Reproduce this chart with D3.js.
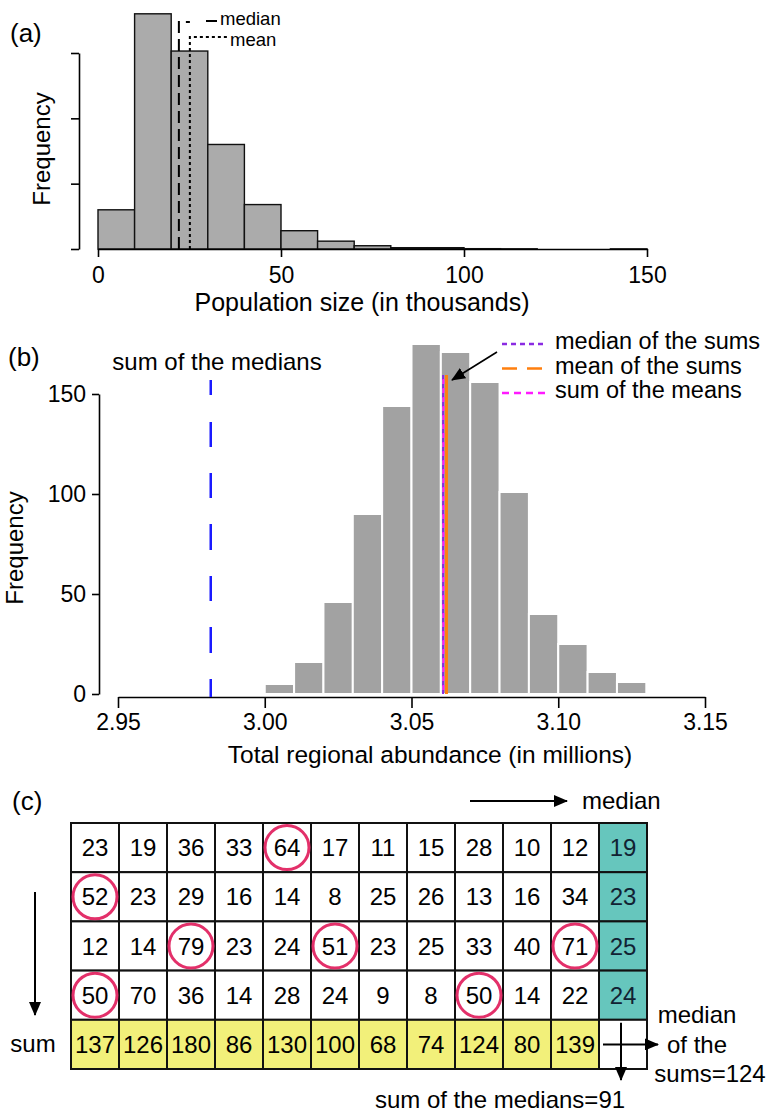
<!DOCTYPE html>
<html>
<head>
<script src="https://d3js.org/d3.v7.min.js"></script>
<style>
  body { margin: 0; background: #fff; }
  svg { display: block; font-family: 'Liberation Sans', Arial, Helvetica, sans-serif; }
</style>
</head>
<body>
<script>

// ---- panel (a): population sizes (thousands), bins of 10
var popBins = [0, 10, 20, 30, 40, 50, 60, 70, 80, 90, 100, 110, 120, 130, 140];
var popFreq = [60, 360, 303, 160, 68, 28, 12, 5, 2, 2, 0.5, 0.3, 0, 0, 0.2];
var popMedian = 22.1;
var popMean = 25.1;
var popTicks = [0, 50, 100, 150];
var popFreqTicks = [0, 100, 200, 300];

// ---- panel (b): total regional abundance (millions), bins of 0.01
var sumBins = [3.00, 3.01, 3.02, 3.03, 3.04, 3.05, 3.06, 3.07, 3.08, 3.09, 3.10, 3.11, 3.12];
var sumFreq = [5, 16, 46, 90, 144, 175, 171, 156, 101, 40, 25, 11, 6];
var sumOfMedians = 2.9816;
var medianOfSums = 3.0611;
var meanOfSums = 3.0614;
var sumOfMeans = 3.0612;
var sumTicks = [2.95, 3.00, 3.05, 3.10, 3.15];
var sumFreqTicks = [0, 50, 100, 150];
var sumLegend = ["median of the sums", "mean of the sums", "sum of the means"];

// ---- panel (c): the table
var gridRows = [
  [23, 19, 36, 33, 64, 17, 11, 15, 28, 10, 12],
  [52, 23, 29, 16, 14, 8, 25, 26, 13, 16, 34],
  [12, 14, 79, 23, 24, 51, 23, 25, 33, 40, 71],
  [50, 70, 36, 14, 28, 24, 9, 8, 50, 14, 22]
];
var rowMedians = [19, 23, 25, 24];
var colSums = [137, 126, 180, 86, 130, 100, 68, 74, 124, 80, 139];
var circled = [[0, 4], [1, 0], [2, 2], [2, 5], [2, 10], [3, 0], [3, 8]];

var fs = 24;

var svg = d3.select("body").append("svg")
  .attr("width", 773)
  .attr("height", 1113);

// arrow head
svg.append("defs").append("marker")
  .attr("id", "arrow")
  .attr("markerUnits", "userSpaceOnUse")
  .attr("markerWidth", 14)
  .attr("markerHeight", 12)
  .attr("refX", 13)
  .attr("refY", 6)
  .attr("orient", "auto")
  .append("path")
  .attr("d", "M0,0 L14,6 L0,12 z")
  .attr("fill", "#000");

function styleAxis(g, size) {
  g.select(".domain").attr("stroke", "#000").attr("stroke-width", 1.6);
  g.selectAll(".tick line").attr("stroke", "#000").attr("stroke-width", 1.6);
  g.selectAll(".tick text").attr("fill", "#000").attr("font-size", size)
    .attr("font-family", "'Liberation Sans', Arial, sans-serif");
}

// ================= panel (a) =================
var xA = d3.scaleLinear().domain([0, 150]).range([98, 647]);
var yA = d3.scaleLinear().domain([0, 300]).range([249, 53]);

svg.append("text").attr("x", 10).attr("y", 42).attr("font-size", 26).text("(a)");

svg.append("g").selectAll("rect")
  .data(popBins)
  .enter()
  .append("rect")
  .attr("x", function(d) { return xA(d); })
  .attr("y", function(d, i) { return yA(popFreq[i]); })
  .attr("width", function(d) { return xA(d + 10) - xA(d); })
  .attr("height", function(d, i) { return yA(0) - yA(popFreq[i]); })
  .attr("fill", "#ababab")
  .attr("stroke", "#111")
  .attr("stroke-width", 1.4);

var axA = svg.append("g")
  .attr("transform", "translate(0,249)")
  .call(d3.axisBottom(xA).tickValues(popTicks).tickSize(8).tickSizeOuter(0).tickPadding(10));
styleAxis(axA, 23);

var ayA = svg.append("g")
  .attr("transform", "translate(79,0)")
  .call(d3.axisLeft(yA).tickValues(popFreqTicks).tickFormat("").tickSize(8).tickSizeOuter(0));
styleAxis(ayA, 23);

svg.append("text")
  .attr("transform", "translate(50,149) rotate(-90)")
  .attr("text-anchor", "middle")
  .attr("font-size", fs)
  .text("Frequency");

svg.append("text")
  .attr("x", 362).attr("y", 311)
  .attr("text-anchor", "middle")
  .attr("font-size", 25)
  .text("Population size (in thousands)");

// median line with its bent legend leader
var mx = xA(popMedian);
svg.append("path")
  .attr("d", "M" + mx + "," + yA(0) + " V22 H" + (mx + 11))
  .attr("fill", "none").attr("stroke", "#000").attr("stroke-width", 2)
  .attr("stroke-dasharray", "12,6");
svg.append("line")
  .attr("x1", 206).attr("x2", 217).attr("y1", 21).attr("y2", 21)
  .attr("stroke", "#000").attr("stroke-width", 2);
svg.append("text").attr("x", 220).attr("y", 25).attr("font-size", 18.5).text("median");

var mnx = xA(popMean);
svg.append("path")
  .attr("d", "M" + mnx + "," + yA(0) + " V37 H228")
  .attr("fill", "none").attr("stroke", "#000").attr("stroke-width", 2)
  .attr("stroke-dasharray", "3,3");
svg.append("text").attr("x", 230).attr("y", 46).attr("font-size", 18.5).text("mean");

// ================= panel (b) =================
var xB = d3.scaleLinear().domain([2.95, 3.15]).range([118, 705]);
var yB = d3.scaleLinear().domain([0, 150]).range([694, 394]);

svg.append("text").attr("x", 8).attr("y", 366).attr("font-size", 26).text("(b)");

svg.append("g").selectAll("rect")
  .data(sumBins)
  .enter()
  .append("rect")
  .attr("x", function(d) { return xB(d); })
  .attr("y", function(d, i) { return yB(sumFreq[i]); })
  .attr("width", function(d) { return xB(d + 0.01) - xB(d); })
  .attr("height", function(d, i) { return yB(0) - yB(sumFreq[i]); })
  .attr("fill", "#a2a2a2")
  .attr("stroke", "#fff")
  .attr("stroke-width", 2);

var axB = svg.append("g")
  .attr("transform", "translate(0,697)")
  .call(d3.axisBottom(xB).tickValues(sumTicks).tickFormat(d3.format(".2f"))
    .tickSize(11).tickSizeOuter(0).tickPadding(6));
styleAxis(axB, 23);

var ayB = svg.append("g")
  .attr("transform", "translate(99,0)")
  .call(d3.axisLeft(yB).tickValues(sumFreqTicks).tickSize(7).tickSizeOuter(0).tickPadding(6));
styleAxis(ayB, 23);

svg.append("text")
  .attr("transform", "translate(23,548) rotate(-90)")
  .attr("text-anchor", "middle")
  .attr("font-size", fs)
  .text("Frequency");

svg.append("text")
  .attr("x", 430).attr("y", 763)
  .attr("text-anchor", "middle")
  .attr("font-size", 24.5)
  .text("Total regional abundance (in millions)");

// sum of the medians
svg.append("line")
  .attr("x1", xB(sumOfMedians)).attr("x2", xB(sumOfMedians))
  .attr("y1", 380).attr("y2", 697)
  .attr("stroke", "#1a1aff").attr("stroke-width", 2.5)
  .attr("stroke-dasharray", "15,27,25,26,25,26,26,26,25,26,26,26,25");
svg.append("text")
  .attr("x", 217).attr("y", 370)
  .attr("text-anchor", "middle")
  .attr("font-size", fs)
  .text("sum of the medians");

// the three nearly identical estimates
svg.append("line")
  .attr("x1", xB(meanOfSums) + 1.5).attr("x2", xB(meanOfSums) + 1.5)
  .attr("y1", 375).attr("y2", 694)
  .attr("stroke", "#ff7f0e").attr("stroke-width", 3);
svg.append("line")
  .attr("x1", xB(medianOfSums) - 1).attr("x2", xB(medianOfSums) - 1)
  .attr("y1", 375).attr("y2", 694)
  .attr("stroke", "#8a2be2").attr("stroke-width", 2)
  .attr("stroke-dasharray", "5,4");
svg.append("line")
  .attr("x1", xB(sumOfMeans) - 1).attr("x2", xB(sumOfMeans) - 1)
  .attr("y1", 379).attr("y2", 694)
  .attr("stroke", "#ff1aff").attr("stroke-width", 2)
  .attr("stroke-dasharray", "5,4");

// legend
var legColors = ["#8a2be2", "#ff7f0e", "#ff1aff"];
var legDash = ["5,4", "15,10", "7,5"];
var leg = svg.append("g").selectAll("g")
  .data(sumLegend)
  .enter()
  .append("g")
  .attr("transform", function(d, i) { return "translate(0," + (344 + i * 24.5) + ")"; });
leg.append("line")
  .attr("x1", 502).attr("x2", 546).attr("y1", 0).attr("y2", 0)
  .attr("stroke", function(d, i) { return legColors[i]; })
  .attr("stroke-width", 2.5)
  .attr("stroke-dasharray", function(d, i) { return legDash[i]; });
leg.append("text")
  .attr("x", 555).attr("y", 5)
  .attr("font-size", 23.5)
  .text(function(d) { return d; });

svg.append("line")
  .attr("x1", 497).attr("y1", 352).attr("x2", 452).attr("y2", 380)
  .attr("stroke", "#000").attr("stroke-width", 1.6)
  .attr("marker-end", "url(#arrow)");

// ================= panel (c) =================
var nCols = gridRows[0].length + 1;
var nRows = gridRows.length + 1;
var xC = d3.scaleBand().domain(d3.range(nCols)).range([71, 647]);
var yC = d3.scaleBand().domain(d3.range(nRows)).range([823, 1069]);

svg.append("text").attr("x", 12).attr("y", 810).attr("font-size", 26).text("(c)");

var cells = [];
gridRows.forEach(function(row, r) {
  row.forEach(function(v, c) { cells.push({ r: r, c: c, v: v, fill: "#fff" }); });
  cells.push({ r: r, c: nCols - 1, v: rowMedians[r], fill: "#66c6bd" });
});
colSums.forEach(function(v, c) { cells.push({ r: nRows - 1, c: c, v: v, fill: "#f2f07a" }); });
cells.push({ r: nRows - 1, c: nCols - 1, v: "", fill: "#fff" });

var cg = svg.append("g").selectAll("g")
  .data(cells)
  .enter()
  .append("g");
cg.append("rect")
  .attr("x", function(d) { return xC(d.c); })
  .attr("y", function(d) { return yC(d.r); })
  .attr("width", xC.bandwidth())
  .attr("height", yC.bandwidth())
  .attr("fill", function(d) { return d.fill; })
  .attr("stroke", "#111")
  .attr("stroke-width", 2);
cg.append("text")
  .attr("x", function(d) { return xC(d.c) + xC.bandwidth() / 2; })
  .attr("y", function(d) { return yC(d.r) + yC.bandwidth() / 2; })
  .attr("dy", "0.36em")
  .attr("text-anchor", "middle")
  .attr("font-size", fs)
  .attr("fill", function(d) { return d.c === nCols - 1 ? "#123" : "#000"; })
  .text(function(d) { return d.v; });

svg.append("g").selectAll("circle")
  .data(circled)
  .enter()
  .append("circle")
  .attr("cx", function(d) { return xC(d[1]) + xC.bandwidth() / 2; })
  .attr("cy", function(d) { return yC(d[0]) + yC.bandwidth() / 2; })
  .attr("r", 22)
  .attr("fill", "none")
  .attr("stroke", "#e3306a")
  .attr("stroke-width", 3);

// row direction: median
svg.append("line")
  .attr("x1", 470).attr("x2", 567).attr("y1", 801).attr("y2", 801)
  .attr("stroke", "#000").attr("stroke-width", 2)
  .attr("marker-end", "url(#arrow)");
svg.append("text").attr("x", 582).attr("y", 809).attr("font-size", fs).text("median");

// column direction: sum
svg.append("line")
  .attr("x1", 35).attr("x2", 35).attr("y1", 892).attr("y2", 1015)
  .attr("stroke", "#000").attr("stroke-width", 2)
  .attr("marker-end", "url(#arrow)");
svg.append("text").attr("x", 33).attr("y", 1052).attr("text-anchor", "middle")
  .attr("font-size", fs).text("sum");

// corner arrows
var cornerX = xC(nCols - 1), cornerY = yC(nRows - 1);
svg.append("line")
  .attr("x1", cornerX + 4).attr("x2", 658)
  .attr("y1", cornerY + yC.bandwidth() / 2).attr("y2", cornerY + yC.bandwidth() / 2)
  .attr("stroke", "#000").attr("stroke-width", 2)
  .attr("marker-end", "url(#arrow)");
svg.append("line")
  .attr("x1", cornerX + 22).attr("x2", cornerX + 22)
  .attr("y1", cornerY + 3).attr("y2", 1080)
  .attr("stroke", "#000").attr("stroke-width", 2)
  .attr("marker-end", "url(#arrow)");

svg.append("text").attr("x", 697).attr("y", 1023).attr("text-anchor", "middle")
  .attr("font-size", fs).text("median");
svg.append("text").attr("x", 697).attr("y", 1053).attr("text-anchor", "middle")
  .attr("font-size", fs).text("of the");
svg.append("text").attr("x", 710).attr("y", 1082).attr("text-anchor", "middle")
  .attr("font-size", fs).text("sums=124");
svg.append("text").attr("x", 500).attr("y", 1108).attr("text-anchor", "middle")
  .attr("font-size", fs).text("sum of the medians=91");

</script>
</body>
</html>
